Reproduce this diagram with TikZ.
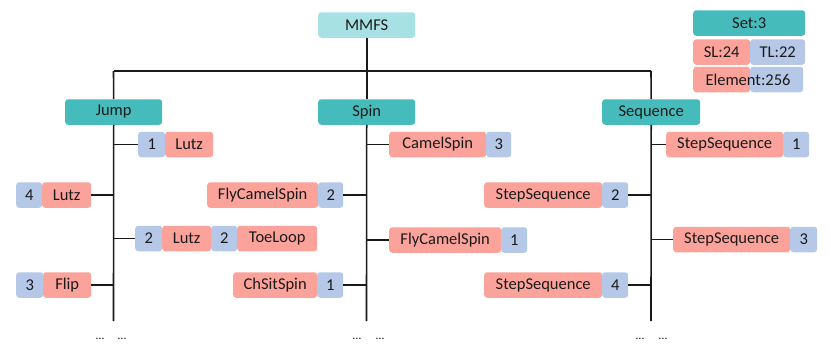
\documentclass[tikz,border=0pt]{standalone}
\usepackage{fontspec}
\setmainfont{Carlito}
\definecolor{pk}{HTML}{FBA39B}
\definecolor{bl}{HTML}{B6C8E8}
\definecolor{tl}{HTML}{45BCBB}
\definecolor{lc}{HTML}{A8E1E3}
\definecolor{ln}{HTML}{1A1A1A}
\begin{document}
\begin{tikzpicture}[x=1pt,y=-1pt,
  box/.style={rounded corners=3pt, inner sep=0pt, minimum height=25.5pt, anchor=west, font=\fontsize{16.5}{18}\selectfont, text=ln},
  pkbox/.style={box, fill=pk},
  blbox/.style={box, fill=bl},
  tlbox/.style={box, fill=tl},
  lcbox/.style={box, fill=lc},
  wire/.style={draw=ln, line width=1.6pt},
  dots/.style={font=\fontsize{12}{12}\selectfont, text=ln, inner sep=0pt}]
\useasboundingbox (0,0) rectangle (831,364);
% top
\node[lcbox, minimum width=97pt] (mmfs) at (318,25) {MMFS};
\node[tlbox, minimum width=112pt] (set) at (693,23) {Set:3};
\node[pkbox, minimum width=57pt] (sl) at (693,52) {SL:24};
\node[blbox, minimum width=55pt] (tlv) at (750,52) {TL:22};
\node[pkbox, minimum width=57pt] (elp) at (693,79.5) {};
\node[blbox, minimum width=53pt] (elb) at (750,79.5) {};
\node[box, anchor=center] (el) at (748,79.5) {Element:256};
% columns
\node[tlbox, minimum width=97pt] (jump) at (65,112) {Jump};
\node[tlbox, minimum width=97pt] (spin) at (318,112) {Spin};
\node[tlbox, minimum width=98pt] (seq) at (602,112) {Sequence};
\coordinate (barL) at (113.5,71);
\coordinate (barR) at (651,71);
\coordinate (jEnd) at (113.5,321);
\coordinate (sEnd) at (366.5,321);
\coordinate (qEnd) at (651,321);
% jump children
\node[blbox, minimum width=27pt] (j1n) at (138,144.5) {1};
\node[pkbox, minimum width=48pt] (j1) at (165,144.5) {Lutz};
\node[blbox, minimum width=26pt] (j2n) at (16,195) {4};
\node[pkbox, minimum width=49pt] (j2) at (42,195) {Lutz};
\node[blbox, minimum width=27pt] (j3n) at (135,238.5) {2};
\node[pkbox, minimum width=49pt] (j3a) at (162,238.5) {Lutz};
\node[blbox, minimum width=26pt] (j3m) at (211,238.5) {2};
\node[pkbox, minimum width=80pt] (j3b) at (237,238.5) {ToeLoop};
\node[blbox, minimum width=27pt] (j4n) at (16,285) {3};
\node[pkbox, minimum width=48pt] (j4) at (43,285) {Flip};
% spin children
\node[pkbox, minimum width=97pt] (s1) at (389,144.5) {CamelSpin};
\node[blbox, minimum width=25pt] (s1n) at (486,144.5) {3};
\node[pkbox, minimum width=111pt] (s2) at (207,195) {FlyCamelSpin};
\node[blbox, minimum width=25pt] (s2n) at (318,195) {2};
\node[pkbox, minimum width=112pt] (s3) at (389,240) {FlyCamelSpin};
\node[blbox, minimum width=26pt] (s3n) at (501,240) {1};
\node[pkbox, minimum width=84pt] (s4) at (233,285) {ChSitSpin};
\node[blbox, minimum width=26pt] (s4n) at (317,285) {1};
% sequence children
\node[pkbox, minimum width=117pt] (q1) at (666,144.5) {StepSequence};
\node[blbox, minimum width=26pt] (q1n) at (783,144.5) {1};
\node[pkbox, minimum width=118pt] (q2) at (484,195) {StepSequence};
\node[blbox, minimum width=26pt] (q2n) at (602,195) {2};
\node[pkbox, minimum width=117pt] (q3) at (673,239.5) {StepSequence};
\node[blbox, minimum width=27pt] (q3n) at (790,239.5) {3};
\node[pkbox, minimum width=118pt] (q4) at (484,285) {StepSequence};
\node[blbox, minimum width=26pt] (q4n) at (602,285) {4};
% dots
\node[dots] (jd1) at (100,339) {\ldots};
\node[dots] (jd2) at (122,339) {\ldots};
\node[dots] (sd1) at (357,339) {\ldots};
\node[dots] (sd2) at (380,339) {\ldots};
\node[dots] (qd1) at (640,339) {\ldots};
\node[dots] (qd2) at (663,339) {\ldots};
% wires
\draw[wire] (barL) -- (barR);
\draw[wire] (mmfs.south) -- (mmfs.south |- barL);
\draw[wire] (barL) -- (jump.north);
\draw[wire] (spin.north) -- (spin.north |- barL);
\draw[wire] (barR) -- (seq.north);
\draw[wire] (jump.south) -- (jEnd);
\draw[wire] (spin.south) -- (sEnd);
\draw[wire] (seq.south) -- (qEnd);
\draw[wire] (j1n.west) -- (j1n.west -| jEnd);
\draw[wire] (j2.east) -- (j2.east -| jEnd);
\draw[wire] (j3n.west) -- (j3n.west -| jEnd);
\draw[wire] (j4.east) -- (j4.east -| jEnd);
\draw[wire] (s1.west) -- (s1.west -| sEnd);
\draw[wire] (s2n.east) -- (s2n.east -| sEnd);
\draw[wire] (s3.west) -- (s3.west -| sEnd);
\draw[wire] (s4n.east) -- (s4n.east -| sEnd);
\draw[wire] (q1.west) -- (q1.west -| qEnd);
\draw[wire] (q2n.east) -- (q2n.east -| qEnd);
\draw[wire] (q3.west) -- (q3.west -| qEnd);
\draw[wire] (q4n.east) -- (q4n.east -| qEnd);
\end{tikzpicture}
\end{document}
